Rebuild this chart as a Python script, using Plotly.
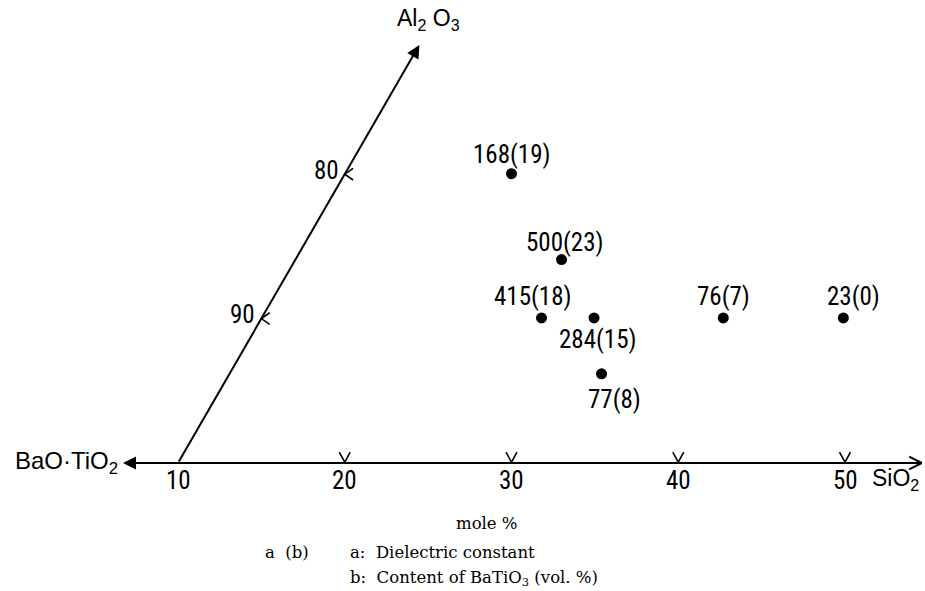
import math
import plotly.graph_objects as go

# ---------------- data ----------------
sio2_ticks = [10, 20, 30, 40, 50]
sio2_tick_labels = ["10", "20", "30", "40", "50"]
slant_ticks = [10, 20]            # distance along the Al2O3 axis from the origin
slant_tick_labels = ["90", "80"]

# composition points (horizontal SiO2 scale, vertical in the same units)
pt_x = [30.0, 33.0, 31.8, 34.95, 42.7, 49.9, 35.4]
pt_y = [17.35, 12.2, 8.7, 8.7, 8.7, 8.7, 5.35]
dielectric = [168, 500, 415, 284, 76, 23, 77]
batio3 = [19, 23, 18, 15, 7, 0, 8]

# label offsets in pixels (dx, dy) - style only
label_off = [(0, 19), (3, 17), (-9, 21), (4, -22), (0, 21), (10, 21), (13, -26)]

# axis geometry
origin = (10.0, 0.0)
angle = math.radians(60)
slant_len = 28.95
left_tip = 6.7
right_tip = 54.6

PX = 16.675  # pixels per unit
W, H = 925, 591
ox_px, oy_px = 178, 463
xr = [10 - ox_px / PX, 10 + (W - ox_px) / PX]
yr = [-(H - oy_px) / PX, oy_px / PX]

NARROW = "Liberation Sans Narrow, Roboto Condensed, DejaVu Sans Condensed, Arial Narrow, sans-serif"
SANS = "Liberation Sans, Arial, sans-serif"
SERIF = "DejaVu Serif, Liberation Serif, serif"

fig = go.Figure()
shapes = []
ann = []

# horizontal axis line
shapes.append(dict(type="line", xref="x", yref="y", x0=left_tip + 0.3, y0=0, x1=right_tip, y1=0,
                   line=dict(color="black", width=2)))
# right open arrowhead
for s in (1, -1):
    shapes.append(dict(type="line", xref="x", yref="y", x0=right_tip, y0=0,
                       x1=right_tip - 0.75, y1=s * 0.38, line=dict(color="black", width=2)))
# left filled arrowhead
ann.append(dict(x=left_tip, y=0, ax=left_tip + 1.2, ay=0, xref="x", yref="y", axref="x", ayref="y",
                text="", showarrow=True, arrowhead=2, arrowsize=1.3, arrowwidth=2, arrowcolor="black",
                standoff=0, startstandoff=0))

# slanted axis
tip = (origin[0] + slant_len * math.cos(angle), origin[1] + slant_len * math.sin(angle))
ann.append(dict(x=tip[0], y=tip[1], ax=origin[0], ay=origin[1], xref="x", yref="y", axref="x", ayref="y",
                text="", showarrow=True, arrowhead=2, arrowsize=1.3, arrowwidth=2, arrowcolor="black",
                standoff=0, startstandoff=0))

# ticks on horizontal axis (V marks)
tx, ty = [], []
for v in sio2_ticks[1:]:
    tx += [v - 0.33, v, v + 0.33, None]
    ty += [0.65, 0.05, 0.65, None]
# ticks on slanted axis (< marks)
for d in slant_ticks:
    px = origin[0] + d * math.cos(angle)
    py = origin[1] + d * math.sin(angle)
    tx += [px + 0.5, px, px + 0.5, None]
    ty += [py + 0.35, py, py - 0.35, None]
fig.add_trace(go.Scatter(x=tx, y=ty, mode="lines", line=dict(color="black", width=1.6),
                         hoverinfo="skip", showlegend=False))

# tick labels
for v, lab in zip(sio2_ticks, sio2_tick_labels):
    ann.append(dict(x=v, y=0, xref="x", yref="y", text=lab, showarrow=False, yshift=-17,
                    font=dict(family=NARROW, size=25, color="black")))
for d, lab in zip(slant_ticks, slant_tick_labels):
    px = origin[0] + d * math.cos(angle)
    py = origin[1] + d * math.sin(angle)
    ann.append(dict(x=px, y=py, xref="x", yref="y", text=lab, showarrow=False, xanchor="right",
                    xshift=-4, yshift=4, font=dict(family=NARROW, size=25, color="black")))

# axis names
ann.append(dict(x=left_tip, y=0, xref="x", yref="y", text="BaO·TiO<sub>2</sub>", showarrow=False,
                xanchor="right", xshift=-3, yshift=1, font=dict(family=SANS, size=24, color="black")))
ann.append(dict(x=50, y=0, xref="x", yref="y", text="SiO<sub>2</sub>", showarrow=False,
                xanchor="left", xshift=25, yshift=-16, font=dict(family=SANS, size=23, color="black")))
ann.append(dict(x=tip[0], y=tip[1], xref="x", yref="y", text="Al<sub>2</sub> O<sub>3</sub>", showarrow=False,
                xanchor="left", xshift=-24, yshift=25, font=dict(family=SANS, size=23, color="black")))

# points
fig.add_trace(go.Scatter(x=pt_x, y=pt_y, mode="markers",
                         marker=dict(color="black", size=11, line=dict(width=0)),
                         hoverinfo="skip", showlegend=False))
for x, y, a, b, (dx, dy) in zip(pt_x, pt_y, dielectric, batio3, label_off):
    ann.append(dict(x=x, y=y, xref="x", yref="y", text=f"{a}({b})", showarrow=False,
                    xshift=dx, yshift=dy, font=dict(family=NARROW, size=25, color="black")))

# bottom texts
bfont = dict(family=SERIF, size=16.5, color="black")
ann.append(dict(x=487 / W, y=1 - 523 / H, xref="paper", yref="paper", text="mole %", showarrow=False,
                yanchor="middle", font=bfont))
ann.append(dict(x=263 / W, y=1 - 552 / H, xref="paper", yref="paper", text="a  (b)", showarrow=False,
                xanchor="left", yanchor="middle", font=bfont))
ann.append(dict(x=348 / W, y=1 - 552 / H, xref="paper", yref="paper", text="a:  Dielectric constant",
                showarrow=False, xanchor="left", yanchor="middle", font=bfont))
ann.append(dict(x=348 / W, y=1 - 578 / H, xref="paper", yref="paper",
                text="b:  Content of BaTiO<sub>3</sub> (vol. %)",
                showarrow=False, xanchor="left", yanchor="middle", font=bfont))

fig.update_layout(
    width=W, height=H, margin=dict(l=0, r=0, t=0, b=0),
    paper_bgcolor="white", plot_bgcolor="white",
    xaxis=dict(range=xr, visible=False, fixedrange=True),
    yaxis=dict(range=yr, visible=False, fixedrange=True),
    shapes=shapes, annotations=ann, showlegend=False,
)
fig.write_html("out.html")
